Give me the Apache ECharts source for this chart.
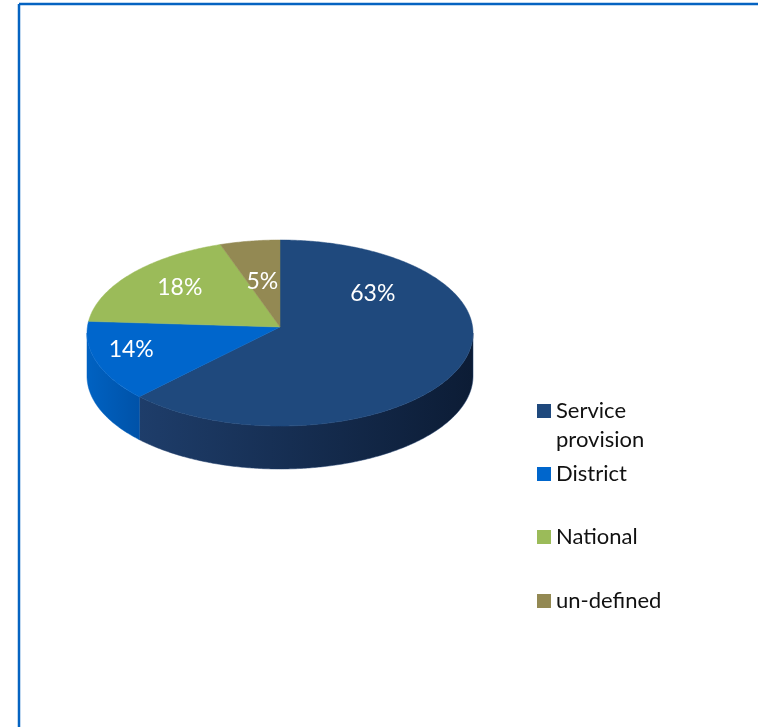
<!DOCTYPE html>
<html>
<head>
<meta charset="utf-8">
<script src="https://cdn.jsdelivr.net/npm/echarts@6/dist/echarts.min.js"></script>
<style>
html,body{margin:0;padding:0;background:#fff;}
#chart{width:758px;height:727px;}
</style>
</head>
<body>
<div id="chart"></div>
<script>
// ---- data ----
const categories = ['Service provision', 'District', 'National', 'un-defined'];
const legendLabels = ['Service\nprovision', 'District', 'National', 'un-defined'];
const values = [63, 14, 18, 5];
const labels = ['63%', '14%', '18%', '5%'];

// ---- style / layout ----
const topColors = ['#1F497D', '#0066CC', '#9BBB59', '#938953'];
const sideColors = [['#1E3D6A', '#0C1C35'], ['#0062C2', '#0052A8'], ['#7E9A47', '#6F8A3C'], ['#7A7045', '#6A6139']];
const legendCenters = [411, 474, 537, 601];
const labelNudge = [[-17, -62], [-35, -1], [-8, -9], [1, 6]];
const geo = { cx: 280, cy: 333, rx: 193, ry: 93, depth: 43, apexDy: -6, labelR: 0.62 };

const total = values.reduce((a, b) => a + b, 0);
const cum = [];
values.reduce((acc, v, i) => { cum[i] = acc; return acc + v; }, 0);

function pt(phi, dy) {
  return [geo.cx + geo.rx * Math.sin(phi), geo.cy - geo.ry * Math.cos(phi) + (dy || 0)];
}
function arc(a0, a1, dy) {
  const n = Math.max(2, Math.ceil((a1 - a0) / 0.01));
  const out = [];
  for (let k = 0; k <= n; k++) out.push(pt(a0 + (a1 - a0) * k / n, dy));
  return out;
}

function renderItem(params, api) {
  const i = params.seriesIndex;
  const v = api.value(0);
  const a0 = cum[i] / total * Math.PI * 2;
  const a1 = (cum[i] + v) / total * Math.PI * 2;
  const children = [];
  // side wall (front half only: phi in [PI/2, 3PI/2])
  const s0 = Math.max(a0, Math.PI / 2), s1 = Math.min(a1, Math.PI * 1.5);
  if (s1 > s0) {
    const topEdge = arc(s0, s1, 0);
    const botEdge = arc(s0, s1, geo.depth).reverse();
    const xs = topEdge.map(p => p[0]);
    const xmin = Math.min.apply(null, xs), xmax = Math.max.apply(null, xs);
    children.push({
      type: 'polygon',
      shape: { points: topEdge.concat(botEdge) },
      style: {
        fill: {
          type: 'linear', x: xmin, y: 0, x2: xmax, y2: 0, global: true,
          colorStops: [{ offset: 0, color: sideColors[i][0] }, { offset: 1, color: sideColors[i][1] }]
        },
        stroke: sideColors[i][0], lineWidth: 0.5
      },
      z2: 1
    });
  }
  // top face
  const apex = [geo.cx, geo.cy + geo.apexDy];
  children.push({
    type: 'polygon',
    shape: { points: [apex].concat(arc(a0, a1, 0)) },
    style: { fill: topColors[i], stroke: topColors[i], lineWidth: 0.5 },
    z2: 2
  });
  // label
  const mid = (a0 + a1) / 2;
  const lx = geo.cx + geo.rx * geo.labelR * Math.sin(mid) + labelNudge[i][0];
  const ly = geo.cy - geo.ry * geo.labelR * Math.cos(mid) + labelNudge[i][1];
  children.push({
    type: 'text',
    style: {
      text: labels[i], x: lx, y: ly, align: 'center', verticalAlign: 'middle',
      fill: '#FFFFFF', fontSize: 23, fontFamily: 'Lato'
    },
    z2: 3
  });
  return { type: 'group', children: children };
}

const series = categories.map((name, i) => ({
  type: 'custom',
  name: name,
  coordinateSystem: 'none',
  renderItem: renderItem,
  itemStyle: { color: topColors[i] },
  data: [[values[i]]],
  silent: true,
  animation: false
}));

const legends = categories.map((name, i) => {
  const twoLine = legendLabels[i].indexOf('\n') >= 0;
  return {
    data: [name],
    left: 537,
    top: twoLine ? legendCenters[i] - 43.5 : legendCenters[i] - 14.5,
    orient: 'vertical',
    padding: 0,
    itemWidth: 14,
    itemHeight: 14,
    icon: 'rect',
    selectedMode: false,
    // a blank first line keeps the icon beside the first text line
    formatter: () => (twoLine ? '\u00a0\n' : '') + legendLabels[i],
    textStyle: {
      fontSize: 22, fontFamily: 'Lato', color: '#111', lineHeight: 29
    }
  };
});

const chart = echarts.init(document.getElementById('chart'), null, { renderer: 'canvas' });
chart.setOption({
  backgroundColor: '#FFFFFF',
  animation: false,
  legend: legends,
  graphic: [
    { type: 'line', shape: { x1: 19, y1: 4, x2: 758, y2: 4 }, style: { stroke: '#0563C1', lineWidth: 2.5 } },
    { type: 'line', shape: { x1: 19, y1: 4, x2: 19, y2: 727 }, style: { stroke: '#0563C1', lineWidth: 2.5 } }
  ],
  series: series
});
</script>
</body>
</html>
